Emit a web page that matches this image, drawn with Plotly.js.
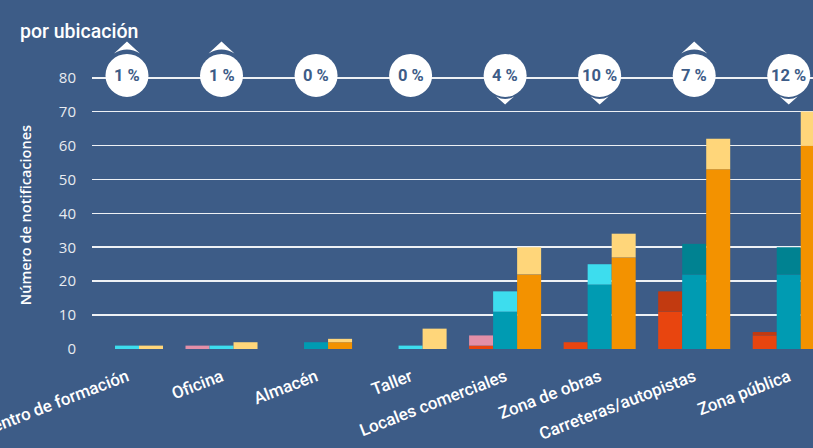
<!DOCTYPE html>
<html>
<head>
<meta charset="utf-8">
<script src="https://cdn.plot.ly/plotly-3.0.1.min.js"></script>
<style>
  html, body { margin: 0; padding: 0; background: #3D5C87; overflow: hidden; }
  #chart { width: 880px; height: 448px; }
</style>
</head>
<body>
<div id="chart"></div>
<script>
// ---- data ----
const categories = ["Centro de formación", "Oficina", "Almacén", "Taller",
  "Locales comerciales", "Zona de obras", "Carreteras/autopistas", "Zona pública"];
const redBase   = [0, 0, 0, 0, 1, 2, 11, 4];
const redTop    = [0, 1, 0, 0, 3, 0, 6, 1];
const tealBase  = [0, 0, 2, 0, 11, 19, 22, 22];
const tealTop   = [1, 1, 0, 1, 6, 6, 9, 8];
const orangeBase = [0, 0, 2, 0, 22, 27, 53, 60];
const orangeTop  = [1, 2, 1, 6, 8, 7, 9, 10];
const pctLabels = ["1 %", "1 %", "0 %", "0 %", "4 %", "10 %", "7 %", "12 %"];
const trend = ["up", "up", "none", "none", "down", "down", "up", "down"];
const yTicks = [0, 10, 20, 30, 40, 50, 60, 70, 80];

// ---- styles ----
const BG = "#3D5C87";
const redTopColors  = ["#E38FA8", "#E38FA8", "#E38FA8", "#E38FA8", "#E38FA8", "#E38FA8", "#C23A10", "#C23A10"];
const tealTopColors = ["#3DDDEE", "#3DDDEE", "#3DDDEE", "#3DDDEE", "#3DDDEE", "#3DDDEE", "#008291", "#008291"];

const common = { type: "bar", x: categories, hoverinfo: "skip" };
const traces = [
  Object.assign({}, common, { y: redBase, offsetgroup: "r", marker: { color: "#E8450F", line: { width: 0 } } }),
  Object.assign({}, common, { y: redTop, base: redBase, offsetgroup: "r", marker: { color: redTopColors, line: { width: 0 } } }),
  Object.assign({}, common, { y: tealBase, offsetgroup: "t", marker: { color: "#009BB2", line: { width: 0 } } }),
  Object.assign({}, common, { y: tealTop, base: tealBase, offsetgroup: "t", marker: { color: tealTopColors, line: { width: 0 } } }),
  Object.assign({}, common, { y: orangeBase, offsetgroup: "o", marker: { color: "#F39200", line: { width: 0 } } }),
  Object.assign({}, common, { y: orangeTop, base: orangeBase, offsetgroup: "o", marker: { color: "#FFD67A", line: { width: 0 } } })
];

const shapes = [];
const annotations = [];
categories.forEach((c, i) => {
  shapes.push({
    type: "circle", xref: "x", yref: "y", xsizemode: "pixel", ysizemode: "pixel",
    xanchor: c, yanchor: 80, x0: -21.5, x1: 21.5, y0: -19.2, y1: 23.8,
    fillcolor: "#ffffff", line: { width: 0 }, layer: "above"
  });
  if (trend[i] === "up") {
    shapes.push({
      type: "path", xref: "x", yref: "y", xsizemode: "pixel", ysizemode: "pixel",
      xanchor: c, yanchor: 80,
      path: "M -13,24.3 L 0,36.3 L 13,24.3 Q 0,32.3 -13,24.3 Z",
      fillcolor: "#ffffff", line: { width: 0 }, layer: "above"
    });
  } else if (trend[i] === "down") {
    shapes.push({
      type: "path", xref: "x", yref: "y", xsizemode: "pixel", ysizemode: "pixel",
      xanchor: c, yanchor: 80,
      path: "M -9,-18.7 Q 0,-23.7 9,-18.7 L 0,-26.7 Z",
      fillcolor: "#ffffff", line: { width: 0 }, layer: "above"
    });
  }
  annotations.push({
    x: c, y: 80, xref: "x", yref: "y", yshift: 2.3, text: pctLabels[i], showarrow: false,
    font: { family: "Roboto, sans-serif", size: 16.5, color: BG, weight: "bold" }
  });
});

annotations.push({
  xref: "paper", yref: "paper", x: (25 - 92) / 744, y: (448 - 99.3 - 215) / 311.7,
  xanchor: "center", yanchor: "middle",
  text: "Número de notificaciones", textangle: -90, showarrow: false,
  font: { family: "Open Sans, sans-serif", size: 14.5, color: "#ffffff", weight: 600 }
});

const layout = {
  width: 880, height: 448,
  paper_bgcolor: BG, plot_bgcolor: BG,
  margin: { l: 92, r: 44, t: 36.6, b: 99.3 },
  showlegend: false,
  barmode: "group", bargap: 0.238, bargroupgap: 0,
  title: {
    text: "por ubicación", xref: "container", yref: "container",
    x: 20 / 880, xanchor: "left", y: 1 - 31 / 448, yanchor: "middle",
    font: { family: "Roboto, sans-serif", size: 19.5, color: "#ffffff", weight: 500 }
  },
  xaxis: {
    type: "category", range: [-0.37, 7.5], automargin: false,
    showgrid: false, zeroline: false, showline: false, ticks: "",
    tickangle: -21, ticklabelstandoff: 14,
    tickfont: { family: "Roboto, sans-serif", size: 17, color: "#ffffff", weight: 500 }
  },
  yaxis: {
    range: [0, 92], automargin: false, tickvals: yTicks,
    showgrid: true, gridcolor: "#eef1f5", gridwidth: 1.6,
    zeroline: false, showline: false, ticks: "", ticklabelstandoff: 15,
    tickfont: { family: "Open Sans, sans-serif", size: 15, color: "#e8ebf0" }
  },
  shapes: shapes,
  annotations: annotations
};

Plotly.newPlot("chart", traces, layout, { displayModeBar: false, staticPlot: true });
</script>
</body>
</html>
